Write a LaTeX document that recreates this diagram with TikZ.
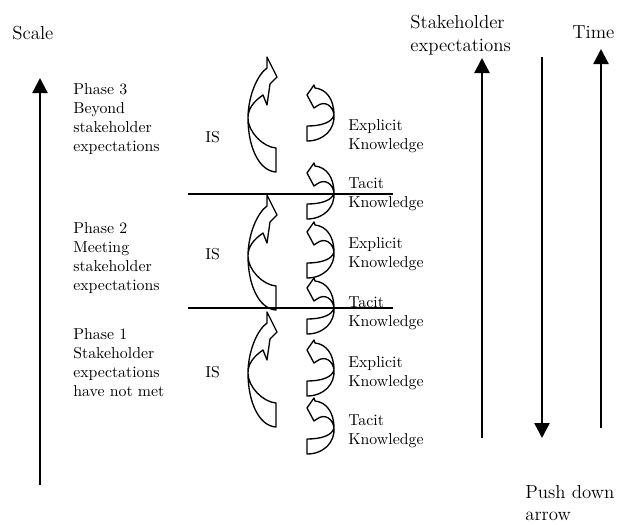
\documentclass[tikz,border=0pt]{standalone}
\usepackage{tikz}
\usetikzlibrary{arrows.meta,positioning}

\tikzset{
    axis/.style={line width=1.4pt, -{Triangle[width=9pt,length=9pt]}},
    phaseline/.style={line width=1.2pt},
    band/.style={line width=0.8pt, line join=round},
    lbl/.style={inner sep=0pt, align=left, anchor=north west, font=\fontsize{9.5}{11.4}\selectfont},
    biglbl/.style={lbl, font=\fontsize{11.3}{13.5}\selectfont},
}

\begin{document}
\begin{tikzpicture}[x=0.6pt,y=-0.6pt]
    \useasboundingbox (0,0) rectangle (618,524);

    % Scale axis
    \node[biglbl] (scale) at (12,26) {Scale};
    \coordinate (scale-bot) at (40,485);
    \coordinate (scale-top) at (40,78);
    \draw[axis] (scale-bot) -- (scale-top);

    % Phases
    \node[lbl] (phase3) at (73,83) {Phase 3\\Beyond\\stakeholder\\expectations};
    \node[lbl] (phase2) at (73,222) {Phase 2\\Meeting\\stakeholder\\expectations};
    \node[lbl] (phase1) at (73,328) {Phase 1\\Stakeholder\\expectations\\have not met};

    % Phase borders
    \coordinate (b1-l) at (188,194); \coordinate (b1-r) at (393,194);
    \coordinate (b2-l) at (188,308); \coordinate (b2-r) at (393,308);
    \draw[phaseline] (b1-l) -- (b1-r);
    \draw[phaseline] (b2-l) -- (b2-r);

    % IS arrows
    \foreach \ty/\ly/\name in {57/131/is3, 195/248/is2, 312/366/is1} {
        \draw[band, shift={(267,\ty)}] (9,115) .. controls (-8,114) and (-19,90) .. (-19,61)
            .. controls (-19,40) and (-10,18) .. (0,11) -- (0,0) -- (10,20) -- (3,27) -- (0,48) -- (-4,38)
            .. controls (-14,45) and (-19,52) .. (-19,61)
            .. controls (-19,75) and (-4,90) .. (9,91) -- cycle;
        \node[lbl] (\name) at (205,\ly) {IS};
    }

    % Knowledge arrows
    \foreach \ty/\ly/\kind in {85/119/Explicit, 163/177/Tacit, 222/237/Explicit,
                               278/296/Tacit, 340/356/Explicit, 398/414/Tacit} {
        \draw[band, shift={(314,\ty)}] (0,0) -- (1,3) .. controls (12,4) and (20,14) .. (20,30)
            .. controls (21,44) and (10,56) .. (-7,56) -- (-7,41)
            .. controls (6,41) and (18,38) .. (20,30)
            .. controls (19,21) and (11,15) .. (3,21) -- (0,23) -- (-7,10) -- cycle;
        \node[lbl] (k-\ty) at (348,\ly) {\kind\\Knowledge};
    }

    % Right axes
    \node[biglbl] (stake) at (410,15) {Stakeholder\\expectations};
    \node[biglbl] (time) at (572,25) {Time};
    \node[biglbl] (push) at (525,485) {Push down\\arrow};
    \coordinate (stake-bot) at (482,438); \coordinate (stake-top) at (482,58);
    \coordinate (push-top) at (542,57);   \coordinate (push-bot) at (542,438);
    \coordinate (time-bot) at (601,428);  \coordinate (time-top) at (601,49);
    \draw[axis] (stake-bot) -- (stake-top);
    \draw[axis] (push-top) -- (push-bot);
    \draw[axis] (time-bot) -- (time-top);
\end{tikzpicture}
\end{document}
